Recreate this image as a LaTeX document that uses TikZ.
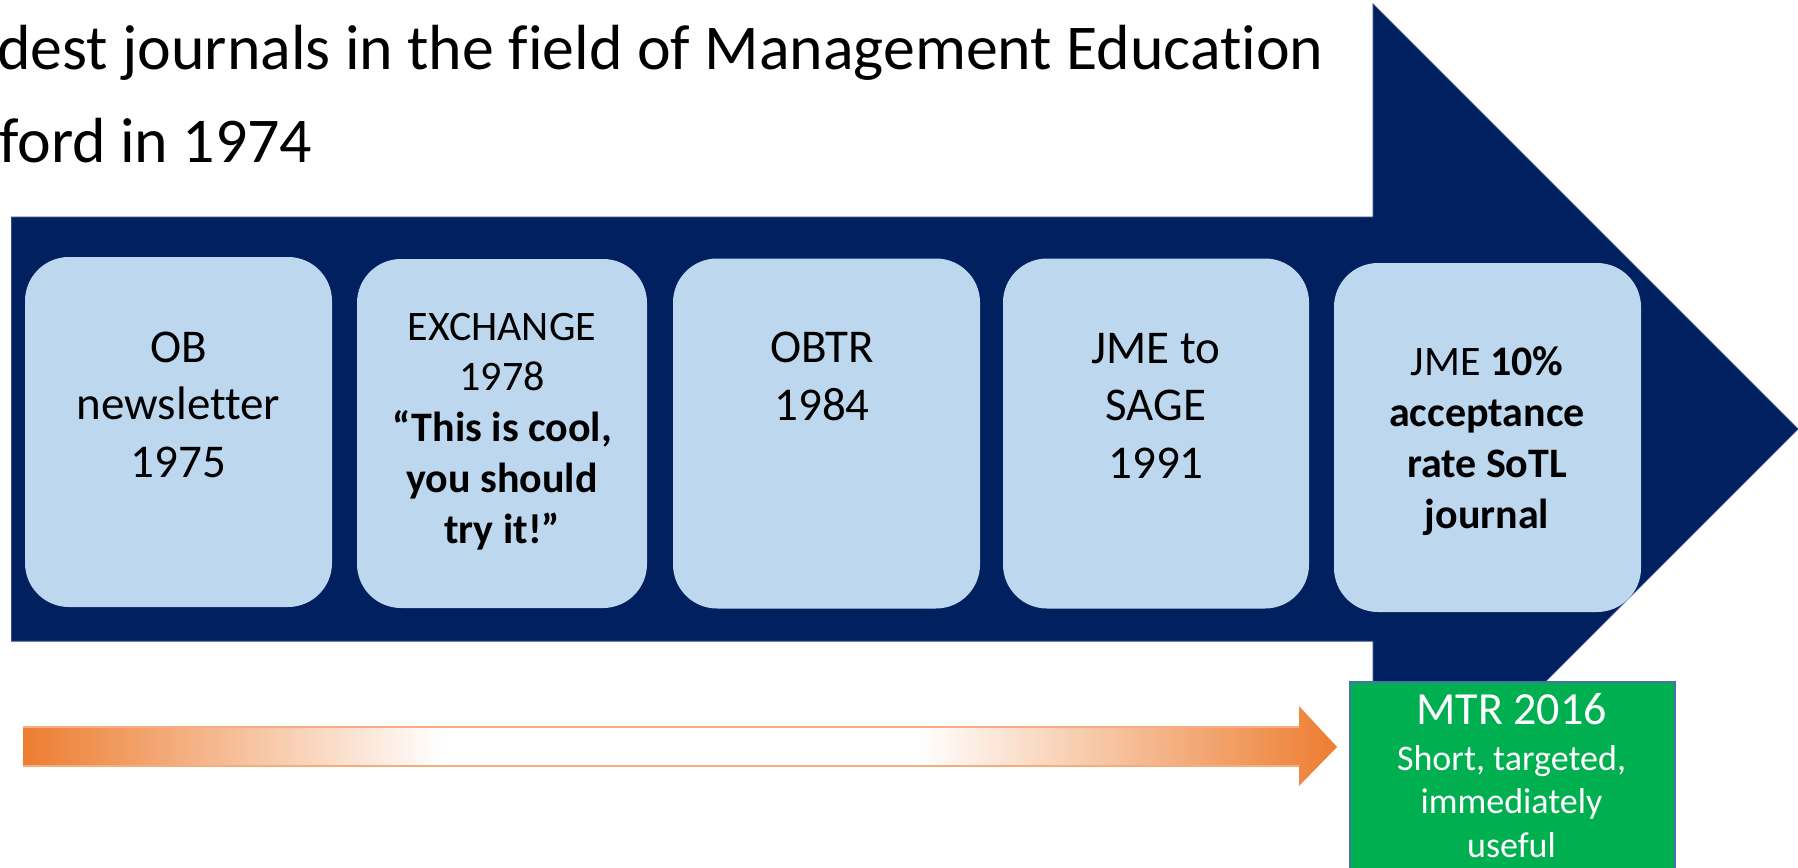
\documentclass[tikz,border=0pt]{standalone}
\usepackage{fontspec}
\setmainfont{Carlito}[Ligatures={NoCommon,NoRare,NoDiscretionary}]
\definecolor{navy}{HTML}{002060}
\definecolor{navyedge}{HTML}{2F4A86}
\definecolor{boxblue}{HTML}{BDD7EE}
\definecolor{mtrgreen}{HTML}{00B050}
\definecolor{mtredge}{HTML}{4A72A8}
\definecolor{fadeorange}{HTML}{ED7D31}
\definecolor{fadeedge}{HTML}{F4AE7E}
% orange -> white plateau -> orange, the path box spans 25bp..75bp
\pgfdeclarehorizontalshading{orangefade}{100bp}{color(0bp)=(fadeorange); color(25bp)=(fadeorange); color(41bp)=(white); color(59bp)=(white); color(75bp)=(fadeorange); color(100bp)=(fadeorange)}
\tikzset{
  jbox/.style={fill=boxblue, draw=none, rounded corners=44pt, inner sep=0pt},
  % multi-line labels are placed by the baseline of their last line
  btext/.style={align=center, inner sep=0pt, anchor=base, text=black},
  headline/.style={anchor=base west, inner sep=0pt, font=\fontsize{63.8}{64}\selectfont},
}
\begin{document}
\begin{tikzpicture}[x=1pt,y=-1pt]
\useasboundingbox (0,0) rectangle (1798,867);
\clip (0,0) rectangle (1798,867);
\fill[white] (0,0) rectangle (1798,867);

% heading text
\node[headline] (h1) at (-3,70) {dest journals in the field of Management Education};
\node[headline] (h2) at (-1,162) {ford in 1974};

% large navy block arrow
\draw[fill=navy, draw=navyedge, line width=1pt]
  (11.5,217) -- (1373,217) -- (1373,4) -- (1798,429) -- (1373,854)
  -- (1373,641) -- (11.5,641) -- cycle;

% timeline boxes
\node[jbox, minimum width=307pt, minimum height=350pt] (b1) at (178.5,432) {};
\node[jbox, minimum width=290pt, minimum height=349pt] (b2) at (502,433.5) {};
\node[jbox, minimum width=307pt, minimum height=350pt] (b3) at (826.5,433.5) {};
\node[jbox, minimum width=306pt, minimum height=350pt] (b4) at (1156,433.5) {};
\node[jbox, minimum width=307pt, minimum height=349pt] (b5) at (1487.5,437.5) {};

\node[btext, font=\fontsize{47}{57.5}\selectfont] (t1) at (178.5,477) {OB\\newsletter\\1975};
\node[btext, font=\fontsize{42}{50.7}\selectfont] (t2) at (502,543)
  {EXCHANGE\\1978\\\textbf{“This is cool,}\\\textbf{you should}\\\textbf{try it!”}};
\node[btext, font=\fontsize{47}{57.5}\selectfont] (t3) at (822,420) {OBTR\\1984};
\node[btext, font=\fontsize{47}{57.5}\selectfont] (t4) at (1156,478) {JME to\\SAGE\\1991};
\node[btext, font=\fontsize{42}{51}\selectfont] (t5) at (1487,528)
  {JME \textbf{10\%}\\\textbf{acceptance}\\\textbf{rate SoTL}\\\textbf{journal}};

% gradient arrow along the bottom
\path[shading=orangefade]
  (23,727) -- (1299,727) -- (1299,706) -- (1337,747) -- (1299,786)
  -- (1299,766) -- (23,766) -- cycle;
\draw[fadeedge, line width=1.2pt]
  (23,727) -- (1299,727) (1299,766) -- (23,766);

% green MTR box
\node[fill=mtrgreen, draw=mtredge, line width=1.5pt, anchor=north west,
      minimum width=325pt, minimum height=220pt, inner sep=0pt] (g) at (1349,681) {};
\node[btext, text=white, font=\fontsize{46}{46}\selectfont] (g1) at (1511.5,724) {MTR 2016};
\node[btext, text=white, font=\fontsize{36}{43.5}\selectfont] (g2) at (1511.5,857)
  {Short, targeted,\\immediately\\useful};
\end{tikzpicture}
\end{document}
